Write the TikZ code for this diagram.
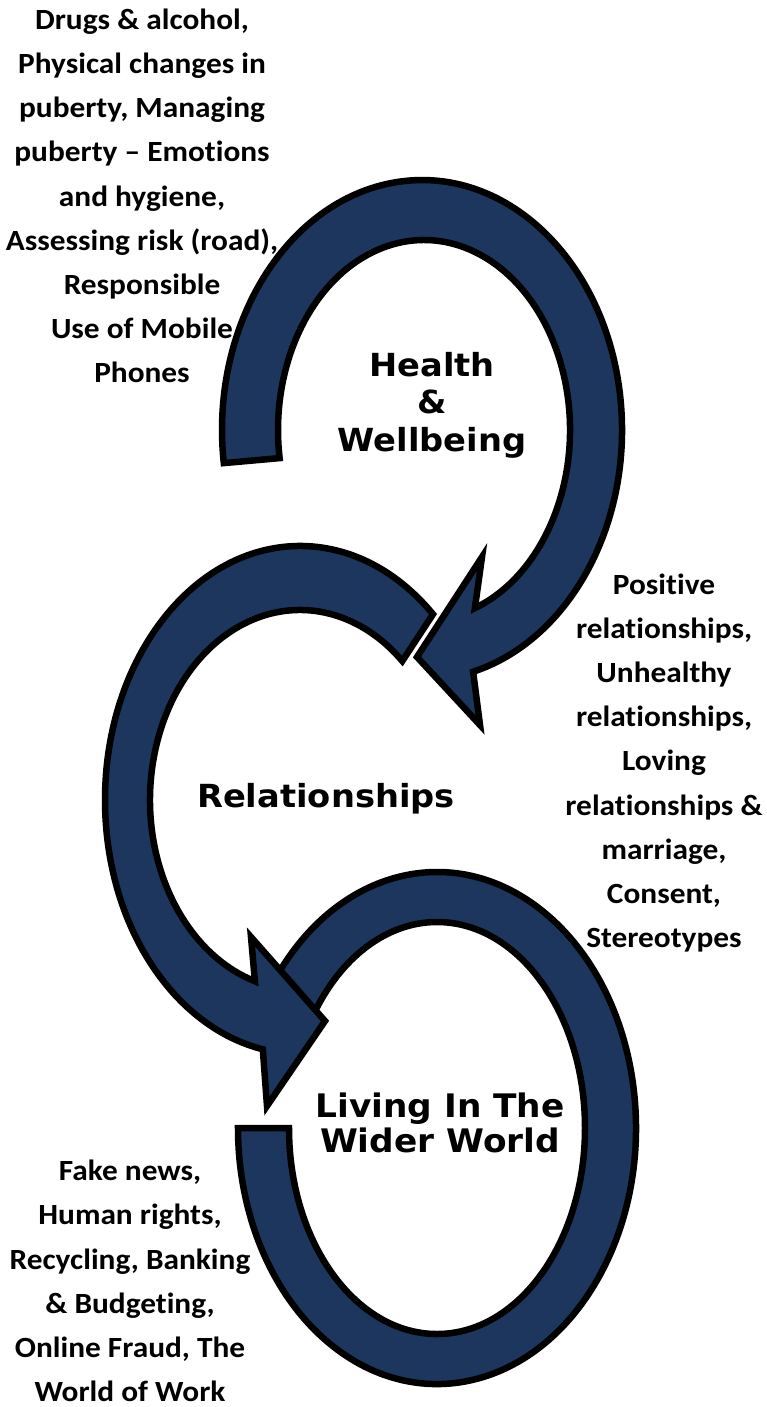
\documentclass[tikz,border=0pt]{standalone}
\usepackage{fontspec}
\newfontfamily\sidefont[FakeStretch=1.07, RawFeature={-liga;-clig}]{Carlito}
\newfontfamily\labelfont[FakeStretch=1.06]{DejaVu Sans}
\definecolor{navy}{RGB}{28,54,93}
\begin{document}
\begin{tikzpicture}[x=1pt,y=1pt,
  arrowband/.style={fill=navy, draw=black, line width=6.5pt, line join=miter, miter limit=10},
  sidetext/.style={font=\sidefont\bfseries\fontsize{29.3}{44.2}\selectfont, align=center, inner sep=0pt},
  labeltext/.style={font=\labelfont\bfseries\fontsize{31.8}{37.5}\selectfont, align=center, inner sep=0pt}]
\fill[white] (0,0) rectangle (766,-1407);
\useasboundingbox (0,0) rectangle (766,-1407);

% Living In The Wider World band (its start is tucked under the Relationships arrowhead)
\draw[arrowband] (270.1,-988.6) arc[start angle=147, end angle=-180, x radius=199, y radius=256]
  -- (289,-1128) arc[start angle=-180, end angle=147, x radius=148, y radius=206] -- cycle;

% Relationships arrow
\draw[arrowband] (433.0,-614.2) arc[start angle=47, end angle=259, x radius=195, y radius=254]
  -- (267,-1106) -- (325,-1021) -- (251,-937) -- (254.9,-981.2)
  arc[start angle=252.5, end angle=47, x radius=150, y radius=190] -- cycle;

% Health & Wellbeing arrow
\draw[arrowband] (223.8,-463.1) arc[start angle=187.6, end angle=-75.2, x radius=200, y radius=250]
  -- (480,-725) -- (417,-657) -- (482,-557) -- (474.9,-608.1)
  arc[start angle=-69.6, end angle=188.5, x radius=146, y radius=190] -- cycle;

\node[labeltext] (hw) at (432,-405) {Health\\\&\\Wellbeing};
\node[labeltext, anchor=base] (rel) at (326,-807) {Relationships};
\node[labeltext, font=\labelfont\bfseries\fontsize{32.4}{35}\selectfont] (ww) at (440,-1122.5) {Living In The\\Wider World};

\node[sidetext] (hwtext) at (142,-196) {Drugs \& alcohol,\\Physical changes in\\puberty, Managing\\puberty – Emotions\\and hygiene,\\Assessing risk (road),\\Responsible\\Use of Mobile\\Phones};
\node[sidetext] (reltext) at (664,-763) {Positive\\relationships,\\Unhealthy\\relationships,\\Loving\\relationships \&\\marriage,\\Consent,\\Stereotypes};
\node[sidetext] (wwtext) at (130,-1281) {Fake news,\\Human rights,\\Recycling, Banking\\\& Budgeting,\\Online Fraud, The\\World of Work};
\end{tikzpicture}
\end{document}
